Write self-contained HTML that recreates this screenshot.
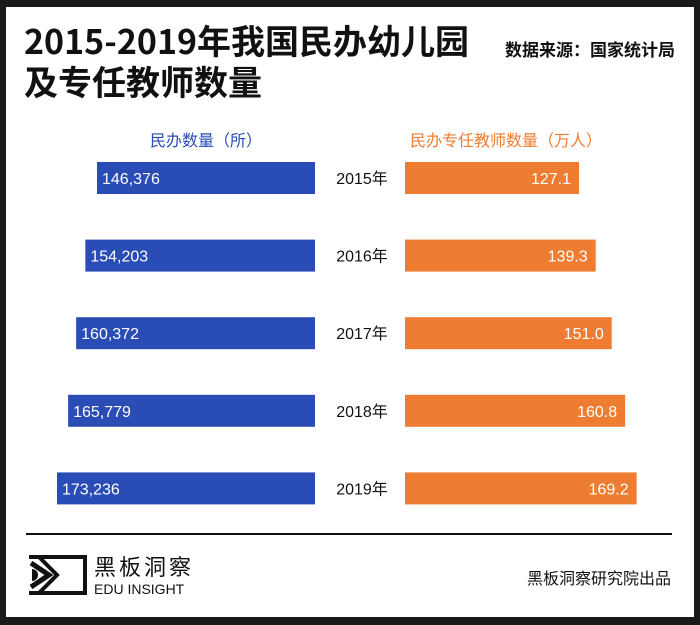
<!DOCTYPE html>
<html><head><meta charset="utf-8"><style>
html,body{margin:0;padding:0;}
body{width:700px;height:625px;background:#1a1a1a;position:relative;overflow:hidden;font-family:"Liberation Sans","Noto Sans CJK SC",sans-serif;}
#card{position:absolute;left:6px;top:7px;width:688px;height:610px;background:#fff;}
.t{position:absolute;white-space:nowrap;}
</style></head><body>
<div id="card"></div>
<div class="t" style="left:24px;top:19px;font-size:34px;font-weight:bold;color:#111;font-family:'Noto Sans CJK SC',sans-serif;line-height:42px;">2015-2019年我国民办幼儿园</div>
<div class="t" style="left:24px;top:60px;font-size:34px;font-weight:bold;color:#111;font-family:'Noto Sans CJK SC',sans-serif;line-height:42px;">及专任教师数量</div>
<div class="t" style="left:505px;top:36px;font-size:17px;font-weight:bold;color:#111;font-family:'Noto Sans CJK SC',sans-serif;">数据来源：国家统计局</div>
<svg id="chart" width="700" height="625" style="position:absolute;left:0;top:0"></svg>
<div class="t" style="left:26px;top:533px;width:646px;height:2px;background:#111;"></div>
<svg class="t" style="left:27px;top:555px" width="60" height="40">
<path d="M2 2 L58 2 L58 38 L2 38 L12 38 L30 20 L12 2 Z" fill="none" stroke="#111" stroke-width="4"/>
<path d="M4 8 L22 20 L4 32" fill="none" stroke="#111" stroke-width="5"/>
<path d="M5 14 A6 6 0 0 1 5 26 Z" fill="#111"/>
</svg>
<div class="t" style="left:94px;top:554px;font-size:22px;color:#111;font-family:'Noto Sans CJK SC',sans-serif;line-height:24px;letter-spacing:3px;">黑板洞察</div>
<div class="t" style="left:94px;top:581px;font-size:14px;color:#111;line-height:16px;">EDU INSIGHT</div>
<div class="t" style="left:527px;top:565px;font-size:16px;color:#111;font-family:'Noto Sans CJK SC',sans-serif;">黑板洞察研究院出品</div>
<script>
const years=["2015年","2016年","2017年","2018年","2019年"];
const schools=[146376,154203,160372,165779,173236];
const schoolLabels=["146,376","154,203","160,372","165,779","173,236"];
const teachers=[127.1,139.3,151.0,160.8,169.2];
const teacherLabels=["127.1","139.3","151.0","160.8","169.2"];
const NS="http://www.w3.org/2000/svg";
const svg=document.getElementById('chart');
const sx=v=>v*218/146376;
const tx=v=>v*174/127.1;
const yRow=i=>162+i*77.6;
function mk(tag,attrs,text){const e=document.createElementNS(NS,tag);for(const k in attrs)e.setAttribute(k,attrs[k]);if(text!==undefined)e.textContent=text;svg.appendChild(e);return e;}
let h=mk('text',{x:206,y:146,'text-anchor':'middle','font-size':16,fill:'#2a4db5','font-family':'Noto Sans CJK SC, sans-serif'},'民办数量（所）');


h=mk('text',{x:506,y:146,'text-anchor':'middle','font-size':16,fill:'#ee7d31','font-family':'Noto Sans CJK SC, sans-serif'},'民办专任教师数量（万人）');


years.forEach((yr,i)=>{
 const y=yRow(i), w=sx(schools[i]);
 let r=mk('rect',{x:315-w,y:y,width:w,height:32,fill:'#2a4db5'});
 
 
 let t=mk('text',{x:315-w+5,y:y+22,'font-size':16,fill:'#fff','font-family':'Liberation Sans, sans-serif'},schoolLabels[i]);
 
 
 const w2=tx(teachers[i]);
 r=mk('rect',{x:405,y:y,width:w2,height:32,fill:'#ee7d31'});
 
 
 t=mk('text',{x:405+w2-8,y:y+22,'text-anchor':'end','font-size':16,fill:'#fff','font-family':'Liberation Sans, sans-serif'},teacherLabels[i]);
 
 
 t=mk('text',{x:362,y:y+22,'text-anchor':'middle','font-size':16,fill:'#111','font-family':'Liberation Sans, Noto Sans CJK SC, sans-serif'},yr);
 
 
});
</script>
</body></html>
